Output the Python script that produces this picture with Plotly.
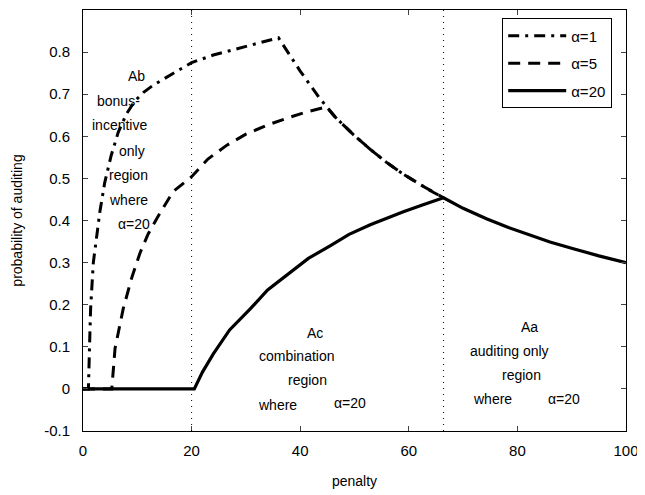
import plotly.graph_objects as go

# alpha = 1 (dash-dot)
x_a1 = [0, 1.0, 1.2, 1.4, 1.9, 2.5, 3.1, 4.0, 5.2, 6.5, 8.0, 9.5, 11.1, 13.0, 15.4, 20, 24, 27.7, 32, 36,
        40, 43.6, 46.5, 49.8, 53, 55.9, 59, 62, 64.5, 66.4]
y_a1 = [0, 0, 0.10, 0.19, 0.30, 0.36, 0.42, 0.49, 0.555, 0.61, 0.653, 0.683, 0.704, 0.722, 0.74, 0.775, 0.793, 0.806, 0.82, 0.834,
        0.755, 0.69, 0.645, 0.604, 0.568, 0.538, 0.51, 0.486, 0.467, 0.454]

# alpha = 5 (dashed)
x_a5 = [0, 5.3, 5.9, 7.4, 9.0, 10.5, 12.0, 13.6, 16.6, 20, 23, 26.5, 30, 33.8, 38, 41, 44.8,
        46.5, 49.8, 53, 55.9, 59, 62, 64.5, 66.4]
y_a5 = [0, 0, 0.096, 0.19, 0.265, 0.323, 0.368, 0.405, 0.469, 0.504, 0.546, 0.579, 0.605, 0.626, 0.645, 0.657, 0.67,
        0.645, 0.604, 0.568, 0.538, 0.51, 0.486, 0.467, 0.454]

# alpha = 20 (solid)
x_a20 = [0, 20.5, 22, 24, 27, 30.8, 34, 38.1, 41.5, 45.5, 49, 52.9, 56, 59, 62.5, 66.4,
         70, 74.3, 78, 82, 86, 90.3, 95, 100]
y_a20 = [0, 0, 0.04, 0.083, 0.14, 0.19, 0.235, 0.277, 0.31, 0.34, 0.367, 0.39, 0.406, 0.421, 0.437, 0.454,
         0.429, 0.404, 0.385, 0.366, 0.349, 0.333, 0.316, 0.30]

boundaries = [20, 66.4]
x_ticks = [0, 20, 40, 60, 80, 100]
y_ticks = [-0.1, 0, 0.1, 0.2, 0.3, 0.4, 0.5, 0.6, 0.7, 0.8]
y_tick_text = ["-0.1", "0", "0.1", "0.2", "0.3", "0.4", "0.5", "0.6", "0.7", "0.8"]

region_labels = [
    (9.9, 0.744, "Ab"), (6.5, 0.683, "bonus-"), (6.8, 0.626, "incentive"),
    (9.0, 0.564, "only"), (8.3, 0.508, "region"), (8.3, 0.448, "where"),
    (9.3, 0.392, "α=20"),
    (42.7, 0.133, "Ac"), (39.4, 0.078, "combination"), (41.4, 0.021, "region"),
    (35.9, -0.038, "where"), (49.2, -0.034, "α=20"),
    (82.3, 0.147, "Aa"), (78.6, 0.089, "auditing only"), (80.8, 0.032, "region"),
    (75.5, -0.024, "where"), (88.5, -0.024, "α=20"),
]

FONT = "Liberation Sans, Arial, Helvetica, sans-serif"

fig = go.Figure()

fig.add_trace(go.Scatter(x=x_a1, y=y_a1, mode="lines", name="α=1",
                         line=dict(color="black", width=3, dash="11px,6px,3px,6px"),
                         legendgroup="a1"))
fig.add_trace(go.Scatter(x=x_a5, y=y_a5, mode="lines", name="α=5",
                         line=dict(color="black", width=3, dash="12px,8px"),
                         legendgroup="a5"))
fig.add_trace(go.Scatter(x=x_a20, y=y_a20, mode="lines", name="α=20",
                         line=dict(color="black", width=3.2),
                         legendgroup="a20"))

for b in boundaries:
    fig.add_vline(x=b, line=dict(color="black", width=1, dash="1px,5px"))

for ax_, ay_, t in region_labels:
    fig.add_annotation(x=ax_, y=ay_, text=t, showarrow=False,
                       font=dict(family=FONT, size=14, color="black"),
                       xanchor="center", yanchor="middle")

fig.update_layout(
    width=637, height=487,
    margin=dict(l=75, r=19, t=2, b=64),
    paper_bgcolor="white", plot_bgcolor="white",
    font=dict(family=FONT, size=14, color="black"),
    showlegend=True,
    legend=dict(x=0.772, y=0.98, xanchor="left", yanchor="top",
                bordercolor="black", borderwidth=1, bgcolor="white",
                font=dict(family=FONT, size=15, color="black"),
                tracegroupgap=5, itemwidth=58),
    xaxis=dict(range=[0, 100], tickvals=x_ticks, ticks="inside", ticklen=5,
               showline=True, linecolor="black", linewidth=1, mirror="allticks",
               showgrid=False, zeroline=False, ticklabelstandoff=6,
               tickfont=dict(family=FONT, size=15),
               title=dict(text="penalty", font=dict(family=FONT, size=14), standoff=18)),
    yaxis=dict(range=[-0.1, 0.9], tickvals=y_ticks, ticktext=y_tick_text,
               ticks="inside", ticklen=5,
               showline=True, linecolor="black", linewidth=1, mirror="allticks",
               showgrid=False, zeroline=False, ticklabelstandoff=9,
               tickfont=dict(family=FONT, size=15),
               title=dict(text="probability of auditing", font=dict(family=FONT, size=14), standoff=18)),
)

fig.write_html("out.html")
